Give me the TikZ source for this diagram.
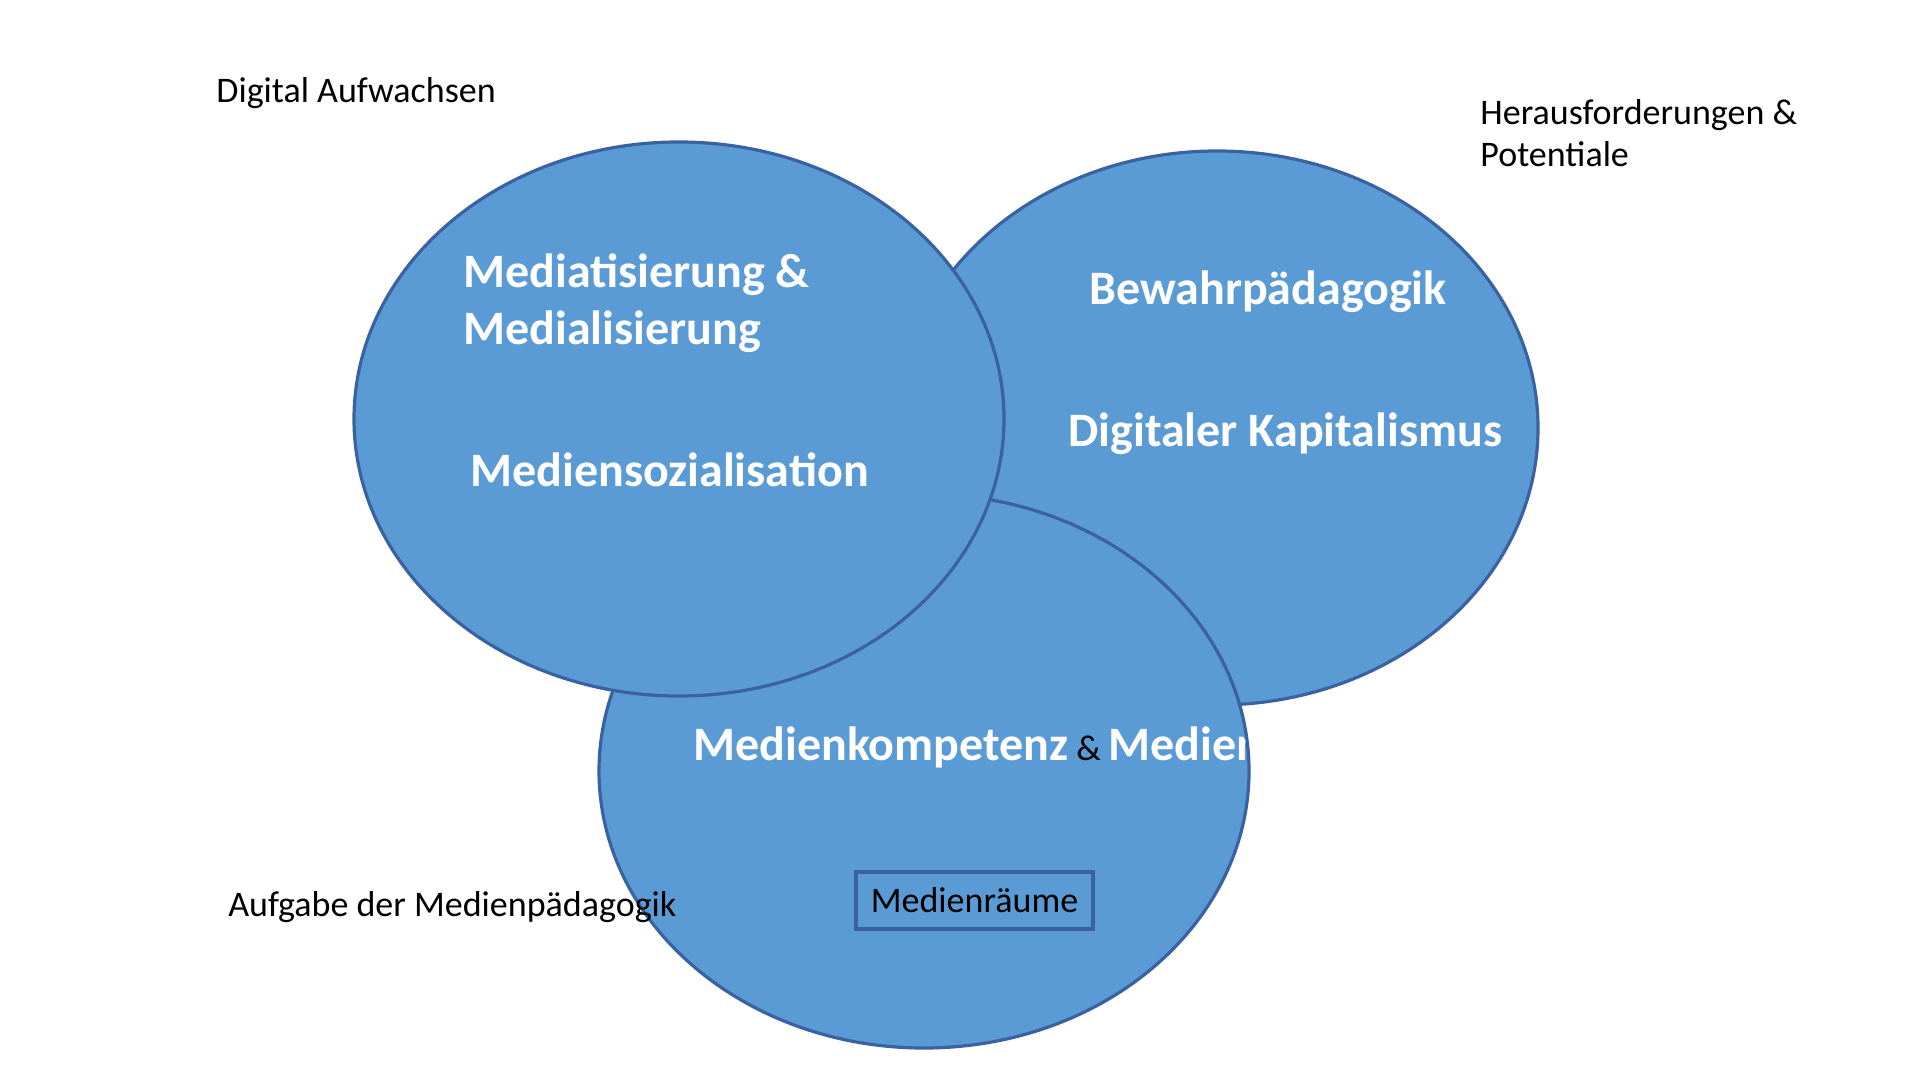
\documentclass[tikz,border=0pt]{standalone}
\usepackage{fontspec}
\setmainfont{Carlito}
\usetikzlibrary{shapes.geometric}
\definecolor{fillblue}{HTML}{5B9BD5}
\definecolor{lineblue}{HTML}{3A62A0}
\begin{document}
\begin{tikzpicture}[x=0.5pt,y=-0.5pt,
  blob/.style={ellipse, inner sep=0pt, outer sep=0pt, minimum width=325pt, minimum height=277pt},
  blobfill/.style={blob, fill=fillblue},
  blobline/.style={blob, draw=lineblue, line width=1.6pt},
  blobboth/.style={blob, fill=fillblue, draw=lineblue, line width=1.6pt},
  big/.style={anchor=base west, inner sep=0pt, text=white, font=\fontsize{24}{28}\selectfont\bfseries},
  plain/.style={anchor=base west, inner sep=0pt, text=black, font=\fontsize{18}{21.6}\selectfont},
  roombox/.style={draw=lineblue, line width=1.6pt, inner sep=0pt, minimum width=118.5pt, minimum height=28.5pt, font=\fontsize{18}{21.6}\selectfont},
]
\useasboundingbox[fill=white] (0,0) rectangle (1920,1080);

% right ellipse
\node[blobboth, minimum width=321pt] (right) at (1217,428) {};
\node[big] (bewahr) at (1089,305) {Bewahrpädagogik};
\node[big] (kapital) at (1068,446) {Digitaler Kapitalismus};

% bottom ellipse
\node[blobfill] (bot) at (924,771) {};
\node[big] (komp) at (693,760) {Medienkompetenz};
\node[plain] (amp) at (1076,760) {\&};
\node[big] (medien) at (1108,760) {Medien};
\node[blobline] (botline) at (bot.center) {};
\node[roombox] (raeume) at (974.5,900.5) {\raisebox{-1.5pt}{Medienräume}};

% left ellipse
\node[blobboth] (left) at (679,419) {};
\node[big] (mediat) at (463,288) {Mediatisierung \&};
\node[big] (medial) at (463,344) {Medialisierung};
\node[big] (sozial) at (470,486) {Mediensozialisation};

% free labels
\node[plain] (digital) at (216,103) {Digital Aufwachsen};
\node[plain] (heraus) at (1480,125) {Herausforderungen \&};
\node[plain] (potent) at (1480,167) {Potentiale};
\node[plain] (aufgabe) at (228,916) {Aufgabe der Medienpädagogik};
\end{tikzpicture}
\end{document}
